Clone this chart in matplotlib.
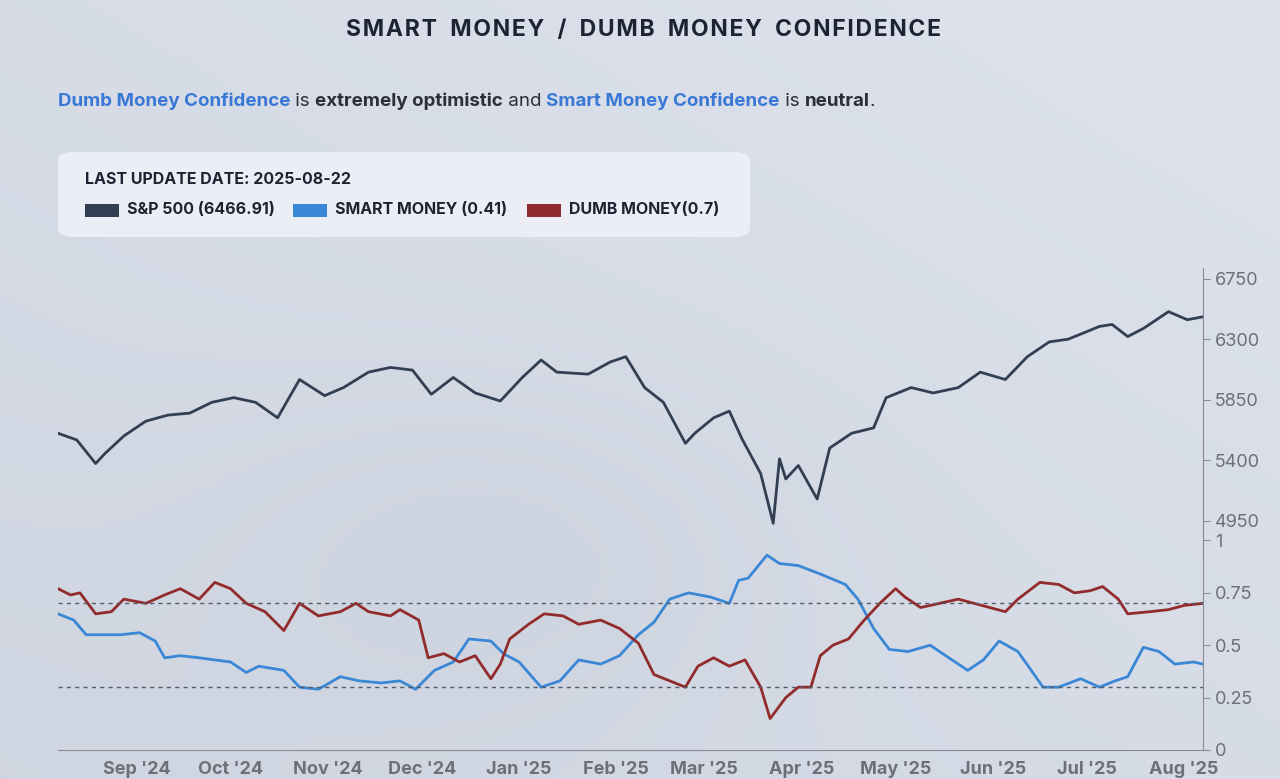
import matplotlib
matplotlib.use("Agg")
import matplotlib.pyplot as plt
import numpy as np
import pandas as pd
from matplotlib.offsetbox import TextArea, HPacker, AnchoredOffsetbox
from matplotlib.patches import FancyBboxPatch, Rectangle

plt.rcParams["font.family"] = "Inter"

START = pd.Timestamp("2024-08-22")

# S&P 500 (day offsets from start, index level)
spx_days = [0, 6, 12, 15, 21, 28, 35, 42, 49, 56, 63, 70, 77, 85, 91, 99, 106, 113, 119, 126,
            133, 141, 148, 154, 159, 169, 176, 181, 187, 193, 200, 203, 209, 214, 218, 224, 228,
            230, 232, 236, 242, 246, 253, 260, 264, 272, 279, 287, 294, 302, 309, 316, 322, 332,
            336, 341, 346, 354, 360, 365]
spx_vals = [5600, 5550, 5375, 5450, 5580, 5690, 5735, 5750, 5830, 5865, 5830, 5715, 6000, 5880,
            5940, 6055, 6090, 6070, 5890, 6015, 5900, 5840, 6015, 6145, 6055, 6040, 6130, 6170,
            5940, 5830, 5525, 5600, 5715, 5765, 5560, 5300, 4930, 5410, 5260, 5360, 5110, 5490,
            5600, 5640, 5865, 5940, 5900, 5940, 6055, 6000, 6170, 6280, 6300, 6395, 6410, 6320,
            6380, 6505, 6445, 6467]

# Smart money confidence
smart_days = [0, 5, 9, 20, 26, 31, 34, 39, 45, 55, 60, 64, 72, 77, 83, 90, 96, 103, 109, 114,
              120, 126, 131, 138, 142, 147, 154, 160, 166, 173, 179, 185, 190, 195, 201, 208, 214,
              217, 220, 226, 230, 236, 243, 251, 255, 260, 265, 271, 278, 284, 290, 295, 300, 306,
              314, 319, 326, 332, 337, 341, 346, 351, 356, 362, 365]
smart_vals = [0.65, 0.62, 0.55, 0.55, 0.56, 0.52, 0.44, 0.45, 0.44, 0.42, 0.37, 0.40, 0.38, 0.30,
              0.29, 0.35, 0.33, 0.32, 0.33, 0.29, 0.38, 0.42, 0.53, 0.52, 0.46, 0.42, 0.30, 0.33,
              0.43, 0.41, 0.45, 0.55, 0.61, 0.72, 0.75, 0.73, 0.70, 0.81, 0.82, 0.93, 0.89, 0.88,
              0.84, 0.79, 0.72, 0.58, 0.48, 0.47, 0.50, 0.44, 0.38, 0.43, 0.52, 0.47, 0.30, 0.30,
              0.34, 0.30, 0.33, 0.35, 0.49, 0.47, 0.41, 0.42, 0.41]

# Dumb money confidence
dumb_days = [0, 4, 7, 12, 17, 21, 28, 34, 39, 45, 50, 55, 60, 66, 72, 77, 83, 90, 95, 99, 106,
             109, 115, 118, 123, 128, 133, 138, 141, 144, 150, 155, 161, 166, 173, 179, 185, 190,
             195, 200, 204, 209, 214, 219, 224, 227, 232, 236, 240, 243, 247, 252, 257, 262, 267,
             270, 275, 281, 287, 292, 297, 302, 306, 313, 319, 324, 329, 333, 338, 341, 348, 354,
             359, 365]
dumb_vals = [0.77, 0.74, 0.75, 0.65, 0.66, 0.72, 0.70, 0.74, 0.77, 0.72, 0.80, 0.77, 0.70, 0.66,
             0.57, 0.70, 0.64, 0.66, 0.70, 0.66, 0.64, 0.67, 0.62, 0.44, 0.46, 0.42, 0.45, 0.34,
             0.41, 0.53, 0.60, 0.65, 0.64, 0.60, 0.62, 0.58, 0.51, 0.36, 0.33, 0.30, 0.40, 0.44,
             0.40, 0.43, 0.30, 0.15, 0.25, 0.30, 0.30, 0.45, 0.50, 0.53, 0.62, 0.70, 0.77, 0.73,
             0.68, 0.70, 0.72, 0.70, 0.68, 0.66, 0.72, 0.80, 0.79, 0.75, 0.76, 0.78, 0.72, 0.65,
             0.66, 0.67, 0.69, 0.70]

month_labels = ["Sep '24", "Oct '24", "Nov '24", "Dec '24", "Jan '25", "Feb '25", "Mar '25",
                "Apr '25", "May '25", "Jun '25", "Jul '25", "Aug '25"]
month_ticks = pd.date_range("2024-09-01", periods=12, freq="MS") + pd.Timedelta(days=15)

spx_dates = START + pd.to_timedelta(spx_days, unit="D")
smart_dates = START + pd.to_timedelta(smart_days, unit="D")
dumb_dates = START + pd.to_timedelta(dumb_days, unit="D")

W, H = 1280, 779
fig = plt.figure(figsize=(W / 100, H / 100), dpi=100)

# background gradient
bg = fig.add_axes([0, 0, 1, 1], zorder=-10)
gx, gy = np.meshgrid(np.linspace(0, 1, 200), np.linspace(0, 1, 200))
grad = 0.5 + 0.3 * (gx - 0.5) + 0.3 * (gy - 0.5) - 0.25 * np.exp(-((gx - 0.4) ** 2 + (gy - 0.3) ** 2) / 0.05)
bg.imshow(grad, cmap=matplotlib.colors.LinearSegmentedColormap.from_list("bg", ["#cfd5e0", "#dde2ec"]),
          extent=[0, 1, 0, 1], aspect="auto", origin="lower")
bg.axis("off")

L, R = 58 / W, 1203 / W
ax1 = fig.add_axes([L, 1 - 530 / H, R - L, (530 - 268) / H])
ax2 = fig.add_axes([L, 1 - 750 / H, R - L, (750 - 530) / H], sharex=ax1)

for ax in (ax1, ax2):
    ax.set_facecolor("none")
    for s in ("top", "left"):
        ax.spines[s].set_visible(False)
    ax.spines["right"].set_color("#888c94")
    ax.yaxis.tick_right()
    ax.tick_params(axis="y", colors="#888c94", labelcolor="#6b7079", labelsize=13, length=5)
ax1.spines["bottom"].set_visible(False)
ax2.spines["bottom"].set_color("#888c94")

ax1.plot(spx_dates, spx_vals, color="#323e52", lw=2)
ax1.set_ylim(4880, 6830)
ax1.set_yticks([4950, 5400, 5850, 6300, 6750])
ax1.tick_params(axis="x", bottom=False, labelbottom=False)

ax2.plot(smart_dates, smart_vals, color="#3a87d6", lw=2)
ax2.plot(dumb_dates, dumb_vals, color="#922b2b", lw=2)
ax2.axhline(0.7, color="#555c68", lw=1, ls=(0, (3, 3)))
ax2.axhline(0.3, color="#555c68", lw=1, ls=(0, (3, 3)))
ax2.set_ylim(0, 1.05)
ax2.set_yticks([0, 0.25, 0.5, 0.75, 1])
ax2.set_yticklabels(["0", "0.25", "0.5", "0.75", "1"])
ax2.set_xticks(month_ticks)
ax2.set_xticklabels(month_labels)
ax2.set_xlim(START, START + pd.Timedelta(days=365))
ax2.tick_params(axis="x", length=0, labelsize=13, labelcolor="#6b7079", pad=8)
for t in ax2.get_xticklabels():
    t.set_fontweight("bold")

title = "SMART MONEY / DUMB MONEY CONFIDENCE"
fig.text(643 / W, 1 - 30 / H, "\u200a".join(title).replace(" \u200a", "\u2002"), ha="center",
         va="center", fontsize=16.5, fontweight="bold", color="#1c2433")

parts = [("Dumb Money Confidence", "#3a78d6", "bold"), (" is ", "#2b2f36", "normal"),
         ("extremely optimistic", "#2b2f36", "bold"), (" and ", "#2b2f36", "normal"),
         ("Smart Money Confidence", "#3a78d6", "bold"), (" is ", "#2b2f36", "normal"),
         ("neutral", "#2b2f36", "bold"), (".", "#2b2f36", "normal")]
boxes = [TextArea(t.replace(" ", "\u00a0"), textprops=dict(color=c, fontweight=w, fontsize=13.5))
         for t, c, w in parts]
sub = AnchoredOffsetbox(loc="center left", child=HPacker(children=boxes, pad=0, sep=0),
                        frameon=False, bbox_to_anchor=(52 / W, 1 - 101 / H),
                        bbox_transform=fig.transFigure, borderpad=0)
fig.add_artist(sub)

# legend card
card = FancyBboxPatch((58 / W, 1 - 237 / H), (750 - 58) / W, (237 - 152) / H,
                      boxstyle="round,pad=0,rounding_size=0.012", transform=fig.transFigure,
                      facecolor="#eef1f7", edgecolor="none", alpha=0.9)
fig.add_artist(card)
fig.text(85 / W, 1 - 180 / H, "LAST UPDATE DATE: 2025-08-22", fontsize=11.5, fontweight="bold",
         color="#1c2433", va="center")
legend_items = [("S&P 500 (6466.91)", "#323e52", 85), ("SMART MONEY (0.41)", "#3a87d6", 293),
                ("DUMB MONEY(0.7)", "#922b2b", 527)]
for lab, col, x in legend_items:
    fig.add_artist(Rectangle((x / W, 1 - 217 / H), 34 / W, 13 / H, transform=fig.transFigure,
                             facecolor=col, edgecolor="none"))
    fig.text((x + 42) / W, 1 - 210 / H, lab, fontsize=11.5, fontweight="bold", color="#1c2433",
             va="center")

fig.savefig("out.png", dpi=100)
